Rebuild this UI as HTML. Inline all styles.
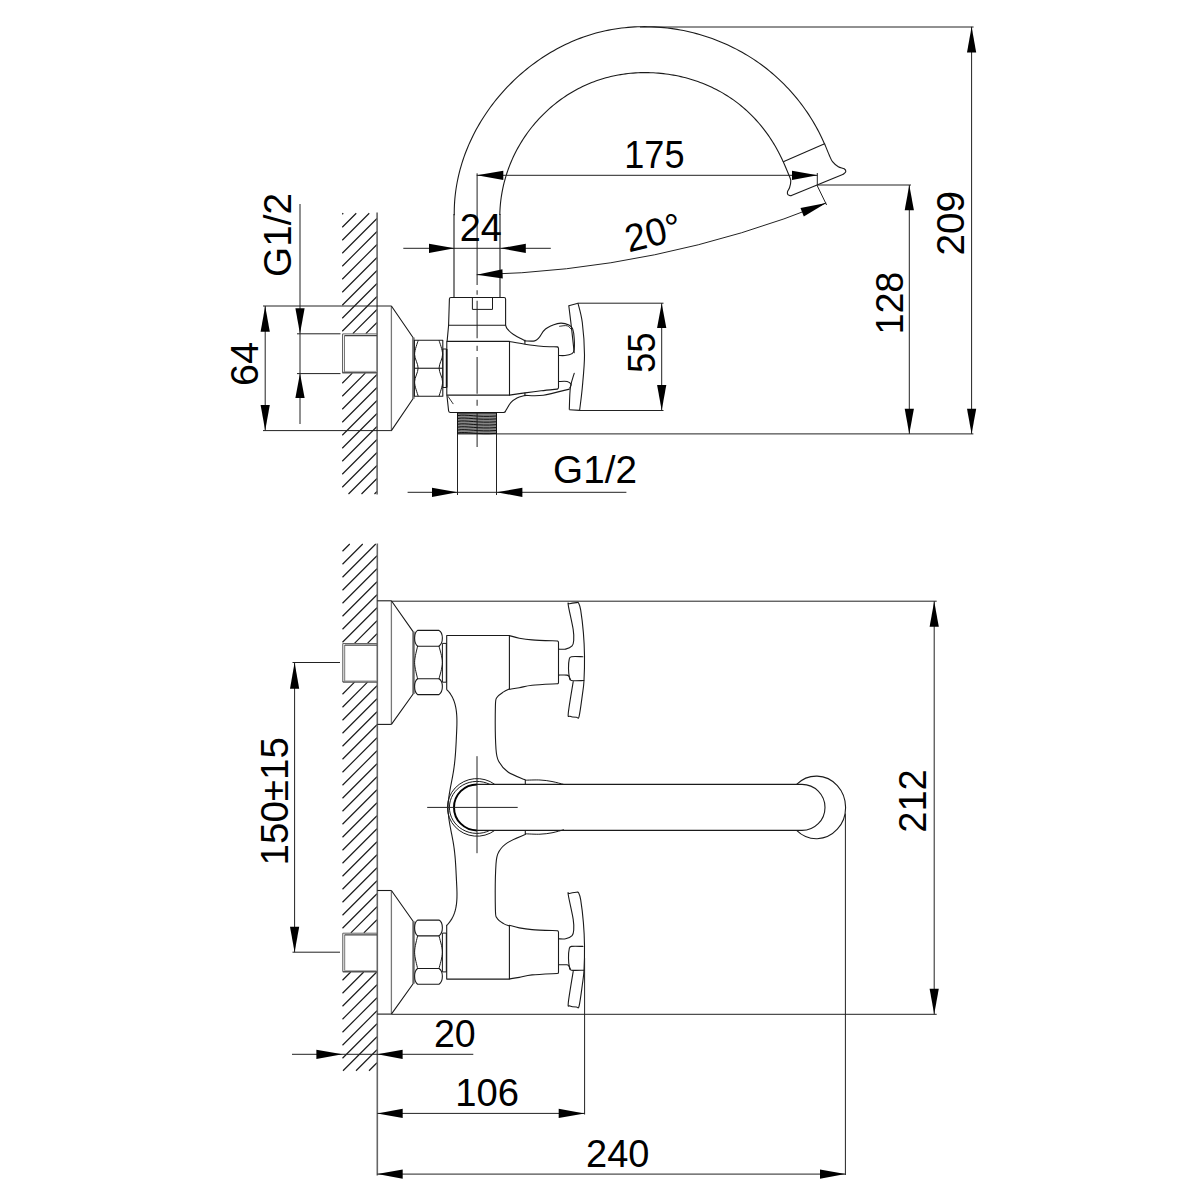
<!DOCTYPE html>
<html><head><meta charset="utf-8"><style>
html,body{margin:0;padding:0;background:#fff;width:1200px;height:1200px;overflow:hidden}
svg{display:block}
text{font-family:"Liberation Sans",sans-serif;fill:#000}
</style></head><body>
<svg width="1200" height="1200" viewBox="0 0 1200 1200">
<rect width="1200" height="1200" fill="#fff"/>
<path d="M342.25,214.25L343.25,213.25 M342.25,227.25L356.25,213.25 M342.25,240.25L369.25,213.25 M342.25,253.25L377,218.5 M342.25,266.25L377,231.5 M342.25,279.25L377,244.5 M342.25,292.25L377,257.5 M342.25,305.25L377,270.5 M342.25,318.25L377,283.5 M342.25,331.25L377,296.5 M352.8,333.7L377,309.5 M365.8,333.7L377,322.5 M342.25,383.25L352.3,373.2 M342.25,396.25L365.3,373.2 M342.25,409.25L377,374.5 M342.25,422.25L377,387.5 M342.25,435.25L377,400.5 M342.25,448.25L377,413.5 M342.25,461.25L377,426.5 M342.25,474.25L377,439.5 M342.25,487.25L377,452.5 M348.5,494L377,465.5 M361.5,494L377,478.5 M374.5,494L377,491.5" fill="none" stroke="#1a1a1a" stroke-width="1.15"/>
<line x1="377.1" y1="212.5" x2="377.1" y2="494.5" stroke="#666" stroke-width="1.6"/>
<line x1="342.6" y1="333.9" x2="342.6" y2="373.2" stroke="#555" stroke-width="1.0"/>
<line x1="344.5" y1="335.5" x2="344.5" y2="372.5" stroke="#777" stroke-width="1.0"/>
<line x1="342.6" y1="333.9" x2="377" y2="333.9" stroke="#666" stroke-width="1.0"/>
<line x1="344.5" y1="335.7" x2="377" y2="335.7" stroke="#444" stroke-width="1.2"/>
<line x1="342.6" y1="372.6" x2="377" y2="372.6" stroke="#555" stroke-width="1.6"/>
<line x1="344.5" y1="371.4" x2="377" y2="371.4" stroke="#999" stroke-width="0.8"/>
<line x1="263" y1="306" x2="391.5" y2="306" stroke="#222" stroke-width="1.0"/>
<line x1="263" y1="430.6" x2="392" y2="430.6" stroke="#222" stroke-width="1.0"/>
<line x1="265.2" y1="306" x2="265.2" y2="430.6" stroke="#222" stroke-width="1.0"/>
<polygon points="265.2,306 269.8,331.7 260.6,331.7" fill="#000"/>
<polygon points="265.2,430.6 260.6,405 269.8,405" fill="#000"/>
<text x="-1.98" y="0" font-size="38.9" transform="translate(257.5,384) rotate(-90) scale(1.0211,1)">64</text>
<line x1="300" y1="204" x2="300" y2="424" stroke="#222" stroke-width="1.0"/>
<polygon points="300,333.8 295.4,308.2 304.6,308.2" fill="#000"/>
<polygon points="300,373.6 304.6,398 295.4,398" fill="#000"/>
<line x1="297" y1="333.8" x2="340.5" y2="333.8" stroke="#222" stroke-width="1.0"/>
<line x1="297" y1="373.6" x2="340.5" y2="373.6" stroke="#222" stroke-width="1.0"/>
<text x="-1.96" y="0" font-size="38.9" transform="translate(290.8,275) rotate(-90) scale(0.9948,1)">G1/2</text>
<polyline points="391.4,306 391.4,430.6" fill="none" stroke="#777" stroke-width="1.3" stroke-linejoin="round"/>
<polyline points="391.4,306 413,337.5 413,398.8 391.4,430.6" fill="none" stroke="#1a1a1a" stroke-width="1.1" stroke-linejoin="round"/>
<line x1="414.2" y1="337.5" x2="414.2" y2="398.8" stroke="#555" stroke-width="0.8"/>
<polygon points="414.4,340.3 442.8,340.3 442.8,396.25 414.4,396.25" fill="none" stroke="#1a1a1a" stroke-width="1.1" stroke-linejoin="round"/>
<line x1="414.4" y1="368.25" x2="442.8" y2="368.25" stroke="#1a1a1a" stroke-width="1.1"/>
<path d="M418.1,340.6 C417.52,342.9 414.6,349.82 414.6,354.4 C414.6,358.98 418.1,363.52 418.1,368.1 C418.1,372.68 414.6,377.27 414.6,381.9 C414.6,386.53 417.52,393.57 418.1,395.9" fill="none" stroke="#1a1a1a" stroke-width="1.0" stroke-linejoin="round" stroke-linecap="round"/>
<path d="M439.1,340.6 C439.68,342.9 442.6,349.82 442.6,354.4 C442.6,358.98 439.1,363.52 439.1,368.1 C439.1,372.68 442.6,377.27 442.6,381.9 C442.6,386.53 439.68,393.57 439.1,395.9" fill="none" stroke="#1a1a1a" stroke-width="1.0" stroke-linejoin="round" stroke-linecap="round"/>
<polygon points="442.8,349 446.6,349 446.6,387.5 442.8,387.5" fill="none" stroke="#1a1a1a" stroke-width="1.0" stroke-linejoin="round"/>
<line x1="446.6" y1="349" x2="446.6" y2="387.5" stroke="#000" stroke-width="1.6"/>
<polygon points="446.8,341.4 509.5,341.4 509.5,395.1 446.8,395.1" fill="none" stroke="#1a1a1a" stroke-width="1.1" stroke-linejoin="round"/>
<path d="M447.1,341.4 L448.6,325.3 L449.4,299 Q449.4,297.5 451,297.5 L504,297.5 Q505.6,297.5 505.6,299 L505.6,325.3" fill="none" stroke="#1a1a1a" stroke-width="1.1" stroke-linejoin="round"/>
<line x1="448.6" y1="325.3" x2="505.6" y2="325.3" stroke="#1a1a1a" stroke-width="1.1"/>
<path d="M505.6,325.3 C505.92,325.95 506.18,327.67 507.5,329.2 C508.82,330.73 510.68,332.63 513.5,334.5 C516.32,336.37 522.58,339.42 524.4,340.4" fill="none" stroke="#1a1a1a" stroke-width="1.1" stroke-linejoin="round" stroke-linecap="round"/>
<polyline points="472.4,297.5 472.4,309.4 492.5,309.4 492.5,297.5" fill="none" stroke="#1a1a1a" stroke-width="1.0" stroke-linejoin="round"/>
<path d="M446.9,395.1 L448.6,410.8 Q448.9,412.5 450.5,412.5 L503.5,412.5 Q505.2,412.5 505.6,411" fill="none" stroke="#1a1a1a" stroke-width="1.1" stroke-linejoin="round"/>
<path d="M505.6,411 C506.47,409.62 508.9,404.87 510.8,402.7 C512.7,400.53 514.73,399.18 517,398 C519.27,396.82 523.17,396 524.4,395.6" fill="none" stroke="#1a1a1a" stroke-width="1.1" stroke-linejoin="round" stroke-linecap="round"/>
<path d="M448.1,396.5 C448.5,397.08 449.67,398.79 450.5,400 C451.33,401.21 452.67,403.12 453.1,403.75" fill="none" stroke="#1a1a1a" stroke-width="0.9" stroke-linejoin="round" stroke-linecap="round"/>
<rect x="457.5" y="413" width="39" height="20.9" fill="#858585" stroke="#111" stroke-width="1"/>
<path d="M458,415.5 C466,414 478,417.5 496,416" fill="none" stroke="#111" stroke-width="1.0" stroke-linejoin="round"/>
<path d="M458,418.4 C466,416.9 478,420.4 496,418.9" fill="none" stroke="#111" stroke-width="1.0" stroke-linejoin="round"/>
<path d="M458,421.3 C466,419.8 478,423.3 496,421.8" fill="none" stroke="#111" stroke-width="1.0" stroke-linejoin="round"/>
<path d="M458,424.2 C466,422.7 478,426.2 496,424.7" fill="none" stroke="#111" stroke-width="1.0" stroke-linejoin="round"/>
<path d="M458,427.1 C466,425.6 478,429.1 496,427.6" fill="none" stroke="#111" stroke-width="1.0" stroke-linejoin="round"/>
<path d="M458,430 C466,428.5 478,432 496,430.5" fill="none" stroke="#111" stroke-width="1.0" stroke-linejoin="round"/>
<path d="M458,432.9 C466,431.4 478,434.9 496,433.4" fill="none" stroke="#111" stroke-width="1.0" stroke-linejoin="round"/>
<line x1="454" y1="214" x2="454" y2="297.5" stroke="#1a1a1a" stroke-width="1.1"/>
<line x1="500" y1="214" x2="500" y2="297.5" stroke="#1a1a1a" stroke-width="1.1"/>
<path d="M454.25,215.14 L454.24,211.81 L454.3,208.49 L454.43,205.18 L454.62,201.87 L454.88,198.58 L455.21,195.29 L455.6,192.02 L456.06,188.75 L456.58,185.5 L457.17,182.26 L457.81,179.04 L458.52,175.83 L459.29,172.63 L460.12,169.45 L461.01,166.29 L461.95,163.14 L462.96,160.01 L464.02,156.9 L465.14,153.81 L466.32,150.74 L467.55,147.69 L468.83,144.66 L470.17,141.66 L471.56,138.67 L473,135.71 L474.5,132.77 L476.05,129.86 L477.64,126.98 L479.29,124.12 L480.98,121.28 L482.73,118.48 L484.52,115.7 L486.35,112.95 L488.23,110.23 L490.16,107.54 L492.13,104.89 L494.15,102.26 L496.21,99.67 L498.31,97.11 L500.45,94.59 L502.63,92.1 L504.85,89.64 L507.12,87.22 L509.42,84.84 L511.76,82.5 L514.13,80.19 L516.54,77.92 L518.99,75.69 L521.47,73.51 L523.99,71.36 L526.54,69.25 L529.13,67.19 L531.74,65.17 L534.39,63.2 L537.07,61.27 L539.78,59.38 L542.51,57.54 L545.28,55.75 L548.07,54 L550.89,52.31 L553.74,50.66 L556.62,49.06 L559.51,47.51 L562.44,46.01 L565.38,44.56 L568.35,43.17 L571.34,41.83 L574.35,40.54 L577.39,39.31 L580.44,38.13 L583.51,37 L586.6,35.94 L589.71,34.93 L592.83,33.98 L595.97,33.09 L599.13,32.25 L602.3,31.48 L605.49,30.76 L608.69,30.11 L611.9,29.51 L615.12,28.96 L618.35,28.48 L621.59,28.05 L624.83,27.69 L628.09,27.37 L631.35,27.12 L634.61,26.92 L637.89,26.78 L641.16,26.69 L644.44,26.66 L647.71,26.69 L650.99,26.77 L654.27,26.91 L657.55,27.1 L660.82,27.34 L664.09,27.64 L667.36,28 L670.62,28.41 L673.88,28.87 L677.12,29.39 L680.37,29.96 L683.6,30.58 L686.82,31.26 L690.03,31.99 L693.23,32.77 L696.42,33.61 L699.59,34.5 L702.75,35.44 L705.9,36.43 L709.03,37.47 L712.14,38.56 L715.23,39.71 L718.3,40.9 L721.36,42.15 L724.39,43.45 L727.4,44.79 L730.39,46.19 L733.35,47.64 L736.29,49.13 L739.21,50.68 L742.09,52.27 L744.95,53.92 L747.79,55.61 L750.59,57.35 L753.36,59.14 L756.1,60.98 L758.81,62.86 L761.48,64.79 L764.12,66.77 L766.73,68.79 L769.3,70.86 L771.84,72.97 L774.34,75.13 L776.81,77.33 L779.24,79.57 L781.62,81.85 L783.98,84.17 L786.29,86.53 L788.56,88.93 L790.79,91.37 L792.98,93.84 L795.12,96.36 L797.23,98.9 L799.29,101.49 L801.3,104.11 L803.27,106.76 L805.2,109.45 L807.08,112.16 L808.91,114.91 L810.7,117.69 L812.44,120.51 L814.13,123.35 L815.77,126.22 L817.36,129.11 L818.9,132.04 L820.38,134.99 L821.82,137.97 L823.2,140.97 L824.53,144" fill="none" stroke="#1a1a1a" stroke-width="1.1" stroke-linejoin="round"/>
<path d="M499.82,215.07 L499.88,212.56 L499.98,210.06 L500.13,207.55 L500.33,205.05 L500.57,202.54 L500.86,200.05 L501.19,197.55 L501.57,195.06 L501.99,192.58 L502.46,190.1 L502.97,187.63 L503.52,185.17 L504.12,182.72 L504.76,180.28 L505.45,177.84 L506.17,175.42 L506.94,173.02 L507.75,170.62 L508.6,168.25 L509.5,165.88 L510.43,163.53 L511.4,161.2 L512.41,158.89 L513.47,156.59 L514.56,154.32 L515.69,152.06 L516.85,149.83 L518.06,147.62 L519.3,145.43 L520.59,143.26 L521.9,141.11 L523.25,138.99 L524.64,136.89 L526.07,134.82 L527.52,132.77 L529.01,130.75 L530.54,128.75 L532.1,126.78 L533.69,124.84 L535.31,122.93 L536.96,121.04 L538.65,119.18 L540.36,117.35 L542.11,115.55 L543.88,113.78 L545.68,112.04 L547.51,110.33 L549.37,108.66 L551.26,107.01 L553.18,105.4 L555.12,103.82 L557.08,102.28 L559.07,100.77 L561.09,99.29 L563.13,97.85 L565.2,96.44 L567.29,95.07 L569.4,93.74 L571.53,92.45 L573.69,91.19 L575.86,89.97 L578.06,88.79 L580.28,87.65 L582.52,86.54 L584.78,85.48 L587.06,84.46 L589.35,83.48 L591.67,82.54 L594,81.65 L596.35,80.8 L598.71,79.99 L601.09,79.22 L603.49,78.49 L605.9,77.81 L608.32,77.17 L610.76,76.57 L613.2,76.02 L615.66,75.51 L618.13,75.03 L620.6,74.6 L623.09,74.22 L625.58,73.87 L628.08,73.57 L630.59,73.3 L633.1,73.08 L635.62,72.9 L638.14,72.77 L640.67,72.67 L643.19,72.61 L645.72,72.6 L648.25,72.62 L650.78,72.69 L653.31,72.79 L655.84,72.94 L658.36,73.13 L660.88,73.36 L663.4,73.63 L665.92,73.94 L668.43,74.28 L670.93,74.67 L673.42,75.1 L675.91,75.57 L678.39,76.08 L680.86,76.62 L683.32,77.21 L685.78,77.84 L688.21,78.5 L690.64,79.21 L693.05,79.95 L695.45,80.73 L697.84,81.56 L700.21,82.42 L702.56,83.32 L704.9,84.25 L707.22,85.23 L709.52,86.24 L711.8,87.3 L714.07,88.39 L716.31,89.52 L718.53,90.68 L720.72,91.89 L722.9,93.13 L725.05,94.41 L727.18,95.73 L729.28,97.09 L731.35,98.48 L733.4,99.91 L735.42,101.37 L737.42,102.88 L739.39,104.41 L741.32,105.99 L743.24,107.59 L745.12,109.23 L746.98,110.9 L748.8,112.61 L750.6,114.35 L752.37,116.12 L754.1,117.92 L755.81,119.75 L757.49,121.61 L759.14,123.49 L760.75,125.41 L762.34,127.36 L763.89,129.33 L765.42,131.33 L766.91,133.36 L768.36,135.41 L769.79,137.49 L771.18,139.59 L772.54,141.72 L773.87,143.87 L775.16,146.04 L776.42,148.24 L777.64,150.45 L778.83,152.69 L779.98,154.95 L781.1,157.23 L782.19,159.53 L783.23,161.85" fill="none" stroke="#1a1a1a" stroke-width="1.1" stroke-linejoin="round"/>
<line x1="783.3" y1="161.7" x2="824.6" y2="143.75" stroke="#1a1a1a" stroke-width="1.1"/>
<path d="M824.6,143.75 C825.37,145.62 827.88,152.01 829.2,155 C830.52,157.99 830.98,159.75 832.5,161.7 C834.02,163.65 836.35,165.52 838.3,166.7 C840.25,167.88 842.95,167.92 844.2,168.75 C845.45,169.58 845.95,170.79 845.8,171.7 C845.65,172.61 843.72,173.78 843.3,174.2" fill="none" stroke="#1a1a1a" stroke-width="1.1" stroke-linejoin="round" stroke-linecap="round"/>
<line x1="843.3" y1="174.2" x2="790.8" y2="195.8" stroke="#1a1a1a" stroke-width="1.1"/>
<path d="M790.8,195.8 C790.32,195.6 788.45,195.28 787.9,194.6 C787.35,193.92 787.22,192.88 787.5,191.7 C787.78,190.52 789.05,189.32 789.6,187.5 C790.15,185.68 790.87,182.75 790.8,180.8 C790.73,178.85 790.45,178.98 789.2,175.8 C787.95,172.62 784.28,164.05 783.3,161.7" fill="none" stroke="#1a1a1a" stroke-width="1.1" stroke-linejoin="round" stroke-linecap="round"/>
<line x1="477.1" y1="173.3" x2="477.1" y2="285" stroke="#222" stroke-width="1.0"/>
<line x1="477.1" y1="290.25" x2="477.1" y2="294.75" stroke="#222" stroke-width="1.0"/>
<line x1="477.1" y1="300.75" x2="477.1" y2="338.25" stroke="#222" stroke-width="1.0"/>
<line x1="477.1" y1="345.75" x2="477.1" y2="351" stroke="#222" stroke-width="1.0"/>
<line x1="477.1" y1="357" x2="477.1" y2="393.75" stroke="#222" stroke-width="1.0"/>
<line x1="477.1" y1="399.75" x2="477.1" y2="405.75" stroke="#222" stroke-width="1.0"/>
<line x1="477.1" y1="412.5" x2="477.1" y2="447" stroke="#222" stroke-width="1.0"/>
<line x1="403.3" y1="248.3" x2="550.8" y2="248.3" stroke="#222" stroke-width="1.0"/>
<polygon points="454.5,248.3 429,252.9 429,243.7" fill="#000"/>
<polygon points="500.4,248.3 525.8,243.7 525.8,252.9" fill="#000"/>
<text x="-1.96" y="0" font-size="38.9" transform="translate(461.7,241.3) rotate(0) scale(0.9733,1)">24</text>
<line x1="476.7" y1="175.3" x2="817.5" y2="175.3" stroke="#222" stroke-width="1.0"/>
<polygon points="476.9,175.3 503.3,170.7 503.3,179.9" fill="#000"/>
<polygon points="817.5,175.3 792,179.9 792,170.7" fill="#000"/>
<line x1="817.3" y1="173" x2="817.3" y2="185" stroke="#222" stroke-width="1.0"/>
<text x="-2.96" y="0" font-size="38.9" transform="translate(627,167.8) rotate(0) scale(0.9286,1)">175</text>
<path d="M476.7,274.75 A995.0,995.0 0 0 0 826.2,202.96" fill="none" stroke="#222" stroke-width="1.0"/>
<polygon points="476.7,274.75 502.44,269.24 502.76,278.43" fill="#000"/>
<polygon points="826.2,202.96 803.81,216.58 800.48,208" fill="#000"/>
<line x1="816.9" y1="185" x2="826.6" y2="205" stroke="#222" stroke-width="1.0"/>
<text x="-1.96" y="0" font-size="38.9" transform="translate(630.6,252) rotate(-14) scale(0.9646,1)">20°</text>
<line x1="817" y1="185" x2="911" y2="185" stroke="#222" stroke-width="1.0"/>
<line x1="640" y1="27" x2="973.6" y2="27" stroke="#222" stroke-width="1.0"/>
<line x1="496.5" y1="433.9" x2="973.4" y2="433.9" stroke="#222" stroke-width="1.0"/>
<line x1="909.3" y1="185" x2="909.3" y2="433.9" stroke="#222" stroke-width="1.0"/>
<polygon points="909.3,185 913.9,210.2 904.7,210.2" fill="#000"/>
<polygon points="909.3,433.9 904.7,408.7 913.9,408.7" fill="#000"/>
<line x1="971.6" y1="26.8" x2="971.6" y2="433.9" stroke="#222" stroke-width="1.0"/>
<polygon points="971.6,26.8 976.2,52.4 967,52.4" fill="#000"/>
<polygon points="971.6,433.9 967,408.7 976.2,408.7" fill="#000"/>
<text x="-2.96" y="0" font-size="38.9" transform="translate(902.5,331.7) rotate(-90) scale(0.9693,1)">128</text>
<text x="-1.96" y="0" font-size="38.9" transform="translate(964.1,253.5) rotate(-90) scale(0.9934,1)">209</text>
<line x1="457.5" y1="433.9" x2="457.5" y2="495" stroke="#222" stroke-width="1.0"/>
<line x1="496.5" y1="433.9" x2="496.5" y2="495" stroke="#222" stroke-width="1.0"/>
<line x1="407.6" y1="492.3" x2="626.4" y2="492.3" stroke="#222" stroke-width="1.0"/>
<polygon points="457.5,492.3 432,496.9 432,487.7" fill="#000"/>
<polygon points="496.5,492.3 522.4,487.7 522.4,496.9" fill="#000"/>
<text x="-1.96" y="0" font-size="38.9" transform="translate(555,483) rotate(0) scale(0.9948,1)">G1/2</text>
<path d="M509.5,341.5 C512.07,341.95 519.62,343.4 524.9,344.2 C530.18,345 535.85,345.85 541.2,346.3 C546.55,346.75 554.37,346.8 557,346.9" fill="none" stroke="#1a1a1a" stroke-width="1.1" stroke-linejoin="round" stroke-linecap="round"/>
<path d="M557,346.9 Q558.5,346.9 558.5,348.4 L558.5,387.6 Q558.5,389.1 557,389.1" fill="none" stroke="#1a1a1a" stroke-width="1.1" stroke-linejoin="round"/>
<path d="M557,389.1 C554.37,389.38 546.55,390.17 541.2,390.8 C535.85,391.43 530.18,392.18 524.9,392.9 C519.62,393.62 512.07,394.73 509.5,395.1" fill="none" stroke="#1a1a1a" stroke-width="1.1" stroke-linejoin="round" stroke-linecap="round"/>
<line x1="524.9" y1="339.8" x2="524.9" y2="344" stroke="#1a1a1a" stroke-width="1.1"/>
<line x1="524.9" y1="392.8" x2="524.9" y2="396.2" stroke="#1a1a1a" stroke-width="1.1"/>
<path d="M524.9,340.9 C526.53,340.9 532.35,341.43 534.7,340.9 C537.05,340.37 537.2,339.68 539,337.7 C540.8,335.72 542.43,331.35 545.5,329 C548.57,326.65 554.15,324.5 557.4,323.6 C560.65,322.7 562.65,323.07 565,323.6 C567.35,324.13 570.05,325.18 571.5,326.8 C572.95,328.42 573.25,329.5 573.7,333.3 C574.15,337.1 574.57,346.17 574.2,349.6 C573.83,353.03 573.03,352.92 571.5,353.9 C569.97,354.88 567.17,355.23 565,355.5 C562.83,355.77 559.58,355.5 558.5,355.5" fill="none" stroke="#1a1a1a" stroke-width="1.1" stroke-linejoin="round" stroke-linecap="round"/>
<path d="M559.6,326.3 C560.87,326.22 565.13,325.17 567.2,325.8 C569.27,326.43 571.2,329.38 572,330.1" fill="none" stroke="#1a1a1a" stroke-width="0.9" stroke-linejoin="round" stroke-linecap="round"/>
<path d="M558.5,381.5 C559.95,381.5 565.12,381.03 567.2,381.5 C569.28,381.97 570.57,383.22 571,384.3 C571.43,385.38 570,387.38 569.8,388" fill="none" stroke="#1a1a1a" stroke-width="1.1" stroke-linejoin="round" stroke-linecap="round"/>
<path d="M524.9,395.4 C527.97,395.37 535.9,396.25 543.3,395.2 C550.7,394.15 564.97,390.12 569.3,389.1" fill="none" stroke="#1a1a1a" stroke-width="1.1" stroke-linejoin="round" stroke-linecap="round"/>
<path d="M568.8,305.7 C569.25,309.4 570.6,320.05 571.5,327.9 C572.4,335.75 573.75,348.65 574.2,352.8" fill="none" stroke="#1a1a1a" stroke-width="1.1" stroke-linejoin="round" stroke-linecap="round"/>
<path d="M574.2,373.4 C573.57,375.75 571.22,381.53 570.4,387.5 C569.58,393.47 569.48,405.58 569.3,409.2" fill="none" stroke="#1a1a1a" stroke-width="1.1" stroke-linejoin="round" stroke-linecap="round"/>
<line x1="568.8" y1="305.7" x2="578" y2="303.3" stroke="#1a1a1a" stroke-width="1.1"/>
<path d="M578,303.3 C578.72,306.5 581.22,313.88 582.3,322.5 C583.38,331.12 584.5,344.17 584.5,355 C584.5,365.83 583.12,378.27 582.3,387.5 C581.48,396.73 580.05,406.58 579.6,410.4" fill="none" stroke="#1a1a1a" stroke-width="1.1" stroke-linejoin="round" stroke-linecap="round"/>
<line x1="569.3" y1="409.8" x2="579.6" y2="410.4" stroke="#1a1a1a" stroke-width="1.1"/>
<line x1="578" y1="303.2" x2="663.5" y2="303.2" stroke="#222" stroke-width="1.0"/>
<line x1="579.6" y1="410.5" x2="663.5" y2="410.5" stroke="#222" stroke-width="1.0"/>
<line x1="661.7" y1="303.2" x2="661.7" y2="410.5" stroke="#222" stroke-width="1.0"/>
<polygon points="661.7,303.2 666.3,328 657.1,328" fill="#000"/>
<polygon points="661.7,410.5 657.1,385 666.3,385" fill="#000"/>
<text x="-1.56" y="0" font-size="38.9" transform="translate(654.5,371.5) rotate(-90) scale(0.9357,1)">55</text>
<path d="M342.5,551.25L349.75,544 M342.5,564.25L362.75,544 M342.5,577.25L375.75,544 M342.5,590.25L377,555.75 M342.5,603.25L377,568.75 M342.5,616.25L377,581.75 M342.5,629.25L377,594.75 M342.5,642.25L377,607.75 M354.45,643.3L377,620.75 M367.45,643.3L377,633.75 M342.5,694.25L354.55,682.2 M342.5,707.25L367.55,682.2 M342.5,720.25L377,685.75 M342.5,733.25L377,698.75 M342.5,746.25L377,711.75 M342.5,759.25L377,724.75 M342.5,772.25L377,737.75 M342.5,785.25L377,750.75 M342.5,798.25L377,763.75 M342.5,811.25L377,776.75 M342.5,824.25L377,789.75 M342.5,837.25L377,802.75 M342.5,850.25L377,815.75 M342.5,863.25L377,828.75 M342.5,876.25L377,841.75 M342.5,889.25L377,854.75 M342.5,902.25L377,867.75 M342.5,915.25L377,880.75 M342.5,928.25L377,893.75 M350.85,932.9L377,906.75 M363.85,932.9L377,919.75 M342.5,980.25L350.75,972 M342.5,993.25L363.75,972 M342.5,1006.25L376.75,972 M342.5,1019.25L377,984.75 M342.5,1032.25L377,997.75 M342.5,1045.25L377,1010.75 M342.5,1058.25L377,1023.75 M343,1070.75L377,1036.75 M356,1070.75L377,1049.75 M369,1070.75L377,1062.75" fill="none" stroke="#1a1a1a" stroke-width="1.15"/>
<line x1="377.3" y1="543.5" x2="377.3" y2="1175.5" stroke="#666" stroke-width="1.6"/>
<line x1="342.8" y1="643.5" x2="342.8" y2="682" stroke="#555" stroke-width="1.0"/>
<line x1="344.7" y1="645" x2="344.7" y2="681" stroke="#777" stroke-width="1.0"/>
<line x1="342.8" y1="643.5" x2="377" y2="643.5" stroke="#666" stroke-width="1.0"/>
<line x1="344.7" y1="645.2" x2="377" y2="645.2" stroke="#444" stroke-width="1.2"/>
<line x1="342.8" y1="682" x2="377" y2="682" stroke="#555" stroke-width="1.6"/>
<line x1="344.7" y1="680.8" x2="377" y2="680.8" stroke="#999" stroke-width="0.8"/>
<polyline points="377.3,600.8 391.4,600.8" fill="none" stroke="#1a1a1a" stroke-width="1.1" stroke-linejoin="round"/>
<polyline points="377.3,724.4 391.4,724.4" fill="none" stroke="#1a1a1a" stroke-width="1.1" stroke-linejoin="round"/>
<line x1="391.4" y1="600.8" x2="391.4" y2="724.4" stroke="#777" stroke-width="1.3"/>
<polyline points="391.4,600.8 413.1,631.6 413.1,694 391.4,724.4" fill="none" stroke="#1a1a1a" stroke-width="1.1" stroke-linejoin="round"/>
<line x1="414.3" y1="631.6" x2="414.3" y2="694" stroke="#555" stroke-width="0.8"/>
<path d="M417.6,630.4 L439,630.4 C443.5,633 443.5,643 439,646.2 L417.6,646.2 C413.6,643 413.6,633 417.6,630.4 Z" fill="none" stroke="#1a1a1a" stroke-width="1.1" stroke-linejoin="round"/>
<path d="M417.6,678.8 L439,678.8 C443.5,681.5 443.5,691.5 439,694.6 L417.6,694.6 C413.6,691.5 413.6,681.5 417.6,678.8 Z" fill="none" stroke="#1a1a1a" stroke-width="1.1" stroke-linejoin="round"/>
<path d="M417.6,646.2 C417.1,648.92 414.6,657.07 414.6,662.5 C414.6,667.93 417.1,676.08 417.6,678.8" fill="none" stroke="#1a1a1a" stroke-width="1.0" stroke-linejoin="round" stroke-linecap="round"/>
<path d="M439,646.2 C439.57,648.92 442.4,657.07 442.4,662.5 C442.4,667.93 439.57,676.08 439,678.8" fill="none" stroke="#1a1a1a" stroke-width="1.0" stroke-linejoin="round" stroke-linecap="round"/>
<polygon points="442.4,643.4 446.3,643.4 446.3,682.2 442.4,682.2" fill="none" stroke="#1a1a1a" stroke-width="1.0" stroke-linejoin="round"/>
<path d="M509.4,635.6 C511.05,636.03 515.52,637.48 519.3,638.2 C523.08,638.92 525.77,639.43 532.1,639.9 C538.43,640.37 553.1,640.82 557.3,641" fill="none" stroke="#1a1a1a" stroke-width="1.1" stroke-linejoin="round" stroke-linecap="round"/>
<path d="M557.3,641 Q558.5,641 558.5,642.5 L558.5,682.5 Q558.5,683.8 557.3,683.8" fill="none" stroke="#1a1a1a" stroke-width="1.1" stroke-linejoin="round"/>
<path d="M557.3,683.8 C553.1,684.03 538.43,684.55 532.1,685.2 C525.77,685.85 523.08,687.03 519.3,687.7 C515.52,688.37 511.05,688.95 509.4,689.2" fill="none" stroke="#1a1a1a" stroke-width="1.1" stroke-linejoin="round" stroke-linecap="round"/>
<path d="M558.5,649.1 C559.68,649.1 563.33,649.63 565.6,649.1 C567.87,648.57 570.75,647.33 572.1,645.9 C573.45,644.47 573.52,643.22 573.7,640.5 C573.88,637.78 574.1,635.47 573.2,629.6 C572.3,623.73 568.93,609.62 568.3,605.3 C567.67,600.98 568.05,604.15 569.4,603.7 C570.75,603.25 574.87,602.7 576.4,602.6 C577.93,602.5 577.88,601.83 578.6,603.1 C579.32,604.37 579.9,605.23 580.7,610.2 C581.5,615.17 582.77,625.33 583.4,632.9 C584.03,640.47 584.4,647.67 584.5,655.6 C584.6,663.53 584.35,674 584,680.5 C583.65,687 583.22,688.63 582.4,694.6 C581.58,700.57 580.1,712.52 579.1,716.3 C578.1,720.08 577.93,717.3 576.4,717.3 C574.87,717.3 571.25,717.02 569.9,716.3 C568.55,715.58 567.75,718.78 568.3,713 C568.85,707.22 572.38,686.83 573.2,681.6" fill="none" stroke="#1a1a1a" stroke-width="1.1" stroke-linejoin="round" stroke-linecap="round"/>
<path d="M582.9,656.7 C581,656.7 573.78,656.23 571.5,656.7 C569.22,657.17 569.7,657.52 569.2,659.5 C568.7,661.48 568.47,665.63 568.5,668.6 C568.53,671.57 568.9,675.32 569.4,677.3 C569.9,679.28 569.1,679.97 571.5,680.5 C573.9,681.03 581.75,680.5 583.8,680.5" fill="none" stroke="#1a1a1a" stroke-width="1.1" stroke-linejoin="round" stroke-linecap="round"/>
<path d="M558.5,675.1 C559.87,675.1 564.98,674.92 566.7,675.1 C568.42,675.28 568.18,675.47 568.8,676.2 C569.42,676.93 570.13,678.95 570.4,679.5" fill="none" stroke="#1a1a1a" stroke-width="1.1" stroke-linejoin="round" stroke-linecap="round"/>
<line x1="342.8" y1="933.2" x2="342.8" y2="971.7" stroke="#555" stroke-width="1.0"/>
<line x1="344.7" y1="934.7" x2="344.7" y2="970.7" stroke="#777" stroke-width="1.0"/>
<line x1="342.8" y1="933.2" x2="377" y2="933.2" stroke="#666" stroke-width="1.0"/>
<line x1="344.7" y1="934.9" x2="377" y2="934.9" stroke="#444" stroke-width="1.2"/>
<line x1="342.8" y1="971.7" x2="377" y2="971.7" stroke="#555" stroke-width="1.6"/>
<line x1="344.7" y1="970.5" x2="377" y2="970.5" stroke="#999" stroke-width="0.8"/>
<polyline points="377.3,890.5 391.4,890.5" fill="none" stroke="#1a1a1a" stroke-width="1.1" stroke-linejoin="round"/>
<polyline points="377.3,1014.1 391.4,1014.1" fill="none" stroke="#1a1a1a" stroke-width="1.1" stroke-linejoin="round"/>
<line x1="391.4" y1="890.5" x2="391.4" y2="1014.1" stroke="#777" stroke-width="1.3"/>
<polyline points="391.4,890.5 413.1,921.3 413.1,983.7 391.4,1014.1" fill="none" stroke="#1a1a1a" stroke-width="1.1" stroke-linejoin="round"/>
<line x1="414.3" y1="921.3" x2="414.3" y2="983.7" stroke="#555" stroke-width="0.8"/>
<path d="M417.6,920.1 L439,920.1 C443.5,922.7 443.5,932.7 439,935.9 L417.6,935.9 C413.6,932.7 413.6,922.7 417.6,920.1 Z" fill="none" stroke="#1a1a1a" stroke-width="1.1" stroke-linejoin="round"/>
<path d="M417.6,968.5 L439,968.5 C443.5,971.2 443.5,981.2 439,984.3 L417.6,984.3 C413.6,981.2 413.6,971.2 417.6,968.5 Z" fill="none" stroke="#1a1a1a" stroke-width="1.1" stroke-linejoin="round"/>
<path d="M417.6,935.9 C417.1,938.62 414.6,946.77 414.6,952.2 C414.6,957.63 417.1,965.78 417.6,968.5" fill="none" stroke="#1a1a1a" stroke-width="1.0" stroke-linejoin="round" stroke-linecap="round"/>
<path d="M439,935.9 C439.57,938.62 442.4,946.77 442.4,952.2 C442.4,957.63 439.57,965.78 439,968.5" fill="none" stroke="#1a1a1a" stroke-width="1.0" stroke-linejoin="round" stroke-linecap="round"/>
<polygon points="442.4,933.1 446.3,933.1 446.3,971.9 442.4,971.9" fill="none" stroke="#1a1a1a" stroke-width="1.0" stroke-linejoin="round"/>
<path d="M509.4,925.3 C511.05,925.73 515.52,927.18 519.3,927.9 C523.08,928.62 525.77,929.13 532.1,929.6 C538.43,930.07 553.1,930.52 557.3,930.7" fill="none" stroke="#1a1a1a" stroke-width="1.1" stroke-linejoin="round" stroke-linecap="round"/>
<path d="M557.3,930.7 Q558.5,930.7 558.5,932.2 L558.5,972.2 Q558.5,973.5 557.3,973.5" fill="none" stroke="#1a1a1a" stroke-width="1.1" stroke-linejoin="round"/>
<path d="M557.3,973.5 C553.1,973.73 538.43,974.25 532.1,974.9 C525.77,975.55 523.08,976.73 519.3,977.4 C515.52,978.07 511.05,978.65 509.4,978.9" fill="none" stroke="#1a1a1a" stroke-width="1.1" stroke-linejoin="round" stroke-linecap="round"/>
<path d="M558.5,938.8 C559.68,938.8 563.33,939.33 565.6,938.8 C567.87,938.27 570.75,937.03 572.1,935.6 C573.45,934.17 573.52,932.92 573.7,930.2 C573.88,927.48 574.1,925.17 573.2,919.3 C572.3,913.43 568.93,899.32 568.3,895 C567.67,890.68 568.05,893.85 569.4,893.4 C570.75,892.95 574.87,892.4 576.4,892.3 C577.93,892.2 577.88,891.53 578.6,892.8 C579.32,894.07 579.9,894.93 580.7,899.9 C581.5,904.87 582.77,915.03 583.4,922.6 C584.03,930.17 584.4,937.37 584.5,945.3 C584.6,953.23 584.35,963.7 584,970.2 C583.65,976.7 583.22,978.33 582.4,984.3 C581.58,990.27 580.1,1002.22 579.1,1006 C578.1,1009.78 577.93,1007 576.4,1007 C574.87,1007 571.25,1006.72 569.9,1006 C568.55,1005.28 567.75,1008.48 568.3,1002.7 C568.85,996.92 572.38,976.53 573.2,971.3" fill="none" stroke="#1a1a1a" stroke-width="1.1" stroke-linejoin="round" stroke-linecap="round"/>
<path d="M582.9,946.4 C581,946.4 573.78,945.93 571.5,946.4 C569.22,946.87 569.7,947.22 569.2,949.2 C568.7,951.18 568.47,955.33 568.5,958.3 C568.53,961.27 568.9,965.02 569.4,967 C569.9,968.98 569.1,969.67 571.5,970.2 C573.9,970.73 581.75,970.2 583.8,970.2" fill="none" stroke="#1a1a1a" stroke-width="1.1" stroke-linejoin="round" stroke-linecap="round"/>
<path d="M558.5,964.8 C559.87,964.8 564.98,964.62 566.7,964.8 C568.42,964.98 568.18,965.17 568.8,965.9 C569.42,966.63 570.13,968.65 570.4,969.2" fill="none" stroke="#1a1a1a" stroke-width="1.1" stroke-linejoin="round" stroke-linecap="round"/>
<polyline points="446.7,689.5 446.7,635.5 509.4,635.5 509.4,689.2" fill="none" stroke="#1a1a1a" stroke-width="1.1" stroke-linejoin="round"/>
<polyline points="446.7,924.9 446.7,979.1 509.4,979.1 509.4,925" fill="none" stroke="#1a1a1a" stroke-width="1.1" stroke-linejoin="round"/>
<path d="M446.51,689.36 L447.43,690.28 L448.29,691.23 L449.1,692.19 L449.86,693.18 L450.56,694.18 L451.22,695.21 L451.83,696.25 L452.39,697.31 L452.92,698.38 L453.4,699.47 L453.84,700.57 L454.24,701.68 L454.61,702.81 L454.94,703.95 L455.24,705.1 L455.51,706.26 L455.75,707.43 L455.97,708.6 L456.15,709.79 L456.32,710.98 L456.46,712.17 L456.58,713.38 L456.68,714.58 L456.76,715.8 L456.83,717.02 L456.87,718.24 L456.9,719.47 L456.92,720.7 L456.92,721.93 L456.91,723.17 L456.9,724.41 L456.87,725.64 L456.83,726.89 L456.79,728.13 L456.74,729.37 L456.69,730.61 L456.63,731.85 L456.58,733.09 L456.52,734.33 L456.46,735.57 L456.4,736.8 L456.35,738.03 L456.29,739.26 L456.23,740.49 L456.17,741.72 L456.11,742.95 L456.04,744.17 L455.98,745.39 L455.91,746.62 L455.84,747.84 L455.76,749.06 L455.69,750.27 L455.61,751.49 L455.52,752.7 L455.43,753.92 L455.34,755.13 L455.24,756.34 L455.13,757.56 L455.02,758.77 L454.91,759.98 L454.78,761.19 L454.65,762.39 L454.52,763.6 L454.37,764.81 L454.22,766.01 L454.06,767.22 L453.9,768.43 L453.72,769.63 L453.54,770.84 L453.34,772.04 L453.14,773.24 L452.93,774.45 L452.72,775.65 L452.5,776.86 L452.27,778.06 L452.04,779.26 L451.81,780.46 L451.58,781.67 L451.34,782.87 L451.11,784.07 L450.88,785.27 L450.64,786.47 L450.42,787.67 L450.19,788.87 L449.98,790.07 L449.76,791.27 L449.56,792.47 L449.36,793.67 L449.18,794.87 L449,796.07 L448.84,797.27 L448.69,798.47 L448.55,799.67 L448.43,800.87 L448.33,802.07 L448.24,803.27 L448.18,804.47 L448.13,805.67 L448.1,806.87 L448.09,808.07 L448.11,809.27 L448.15,810.47 L448.21,811.67 L448.28,812.87 L448.38,814.07 L448.49,815.27 L448.62,816.47 L448.76,817.67 L448.92,818.87 L449.09,820.07 L449.27,821.27 L449.46,822.47 L449.66,823.67 L449.87,824.87 L450.09,826.07 L450.31,827.27 L450.54,828.47 L450.77,829.68 L451.01,830.88 L451.25,832.08 L451.48,833.28 L451.72,834.48 L451.96,835.69 L452.19,836.89 L452.43,838.09 L452.65,839.29 L452.88,840.49 L453.09,841.7 L453.3,842.9 L453.5,844.1 L453.69,845.31 L453.87,846.51 L454.04,847.71 L454.2,848.92 L454.35,850.12 L454.5,851.33 L454.63,852.53 L454.76,853.74 L454.88,854.94 L455,856.15 L455.11,857.36 L455.21,858.57 L455.31,859.78 L455.4,860.99 L455.48,862.2 L455.57,863.42 L455.64,864.63 L455.72,865.85 L455.79,867.07 L455.86,868.29 L455.92,869.51 L455.99,870.73 L456.05,871.95 L456.11,873.18 L456.17,874.41 L456.23,875.64 L456.29,876.87 L456.35,878.11 L456.41,879.35 L456.47,880.59 L456.53,881.83 L456.6,883.07 L456.66,884.32 L456.72,885.57 L456.78,886.81 L456.84,888.06 L456.88,889.31 L456.92,890.55 L456.96,891.8 L456.98,893.04 L456.99,894.28 L456.98,895.52 L456.96,896.75 L456.93,897.97 L456.87,899.2 L456.8,900.41 L456.71,901.62 L456.6,902.83 L456.46,904.02 L456.3,905.21 L456.11,906.39 L455.89,907.56 L455.65,908.72 L455.37,909.87 L455.06,911.01 L454.72,912.13 L454.35,913.25 L453.94,914.35 L453.49,915.44 L453,916.52 L452.47,917.58 L451.89,918.63 L451.28,919.66 L450.62,920.67 L449.91,921.67 L449.16,922.65 L448.35,923.62 L447.5,924.56 L446.59,925.49" fill="none" stroke="#1a1a1a" stroke-width="1.1" stroke-linejoin="round"/>
<path d="M509.2,689 C508.27,689.48 505.62,690.52 503.6,691.9 C501.58,693.28 498.47,694.95 497.1,697.3 C495.73,699.65 495.58,697.33 495.4,706 C495.22,714.67 495.35,739.92 496,749.3 C496.65,758.68 497.3,758.52 499.3,762.3 C501.3,766.08 503.78,769.12 508,772 C512.22,774.88 521.83,778.33 524.6,779.6" fill="none" stroke="#1a1a1a" stroke-width="1.1" stroke-linejoin="round" stroke-linecap="round"/>
<path d="M524.6,834.8 C521.83,836.07 512.22,839.68 508,842.4 C503.78,845.12 501.3,847.5 499.3,851.1 C497.3,854.7 496.65,854.27 496,864 C495.35,873.73 495.22,900.47 495.4,909.5 C495.58,918.53 495.73,915.85 497.1,918.2 C498.47,920.55 501.58,922.33 503.6,923.6 C505.62,924.87 508.27,925.43 509.2,925.8" fill="none" stroke="#1a1a1a" stroke-width="1.1" stroke-linejoin="round" stroke-linecap="round"/>
<line x1="525.3" y1="779.4" x2="525.3" y2="784.4" stroke="#1a1a1a" stroke-width="1.1"/>
<line x1="525.3" y1="830" x2="525.3" y2="835" stroke="#1a1a1a" stroke-width="1.1"/>
<path d="M525.3,780.2 C527.75,780.17 535.55,779.78 540,780 C544.45,780.22 548.08,780.77 552,781.5 C555.92,782.23 561.58,783.92 563.5,784.4" fill="none" stroke="#1a1a1a" stroke-width="1.0" stroke-linejoin="round" stroke-linecap="round"/>
<path d="M525.3,833.8 C527.75,833.87 535.55,834.37 540,834.2 C544.45,834.03 548.08,833.53 552,832.8 C555.92,832.07 561.58,830.3 563.5,829.8" fill="none" stroke="#1a1a1a" stroke-width="1.0" stroke-linejoin="round" stroke-linecap="round"/>
<line x1="477" y1="784.4" x2="802" y2="784.4" stroke="#1a1a1a" stroke-width="1.1"/>
<line x1="477" y1="830.4" x2="802" y2="830.4" stroke="#1a1a1a" stroke-width="1.1"/>
<path d="M477,784.4 A23,23 0 0 0 477,830.4" fill="none" stroke="#000" stroke-width="2"/>
<path d="M802,784.4 A23,23 0 0 1 802,830.4" fill="none" stroke="#1a1a1a" stroke-width="1.1"/>
<path d="M494.81,784.4 A29.6,28.8 0 1 0 494.81,830.4" fill="none" stroke="#1a1a1a" stroke-width="1.0"/>
<path d="M489.87,784.4 A27.6,26.0 0 1 0 489.87,830.4" fill="none" stroke="#1a1a1a" stroke-width="1.0"/>
<path d="M796.59,784.4 A29.2,31.3 0 1 1 796.59,830.4" fill="none" stroke="#1a1a1a" stroke-width="1.1"/>
<line x1="477" y1="756.2" x2="477" y2="853.2" stroke="#222" stroke-width="1.0"/>
<line x1="427.2" y1="807.4" x2="517.7" y2="807.4" stroke="#222" stroke-width="1.0"/>
<line x1="292.5" y1="662.5" x2="340" y2="662.5" stroke="#222" stroke-width="1.0"/>
<line x1="292.5" y1="952.2" x2="340" y2="952.2" stroke="#222" stroke-width="1.0"/>
<line x1="294.6" y1="662.5" x2="294.6" y2="952.2" stroke="#222" stroke-width="1.0"/>
<polygon points="294.6,662.5 299.2,688.7 290,688.7" fill="#000"/>
<polygon points="294.6,952.2 290,926.7 299.2,926.7" fill="#000"/>
<text x="-2.96" y="0" font-size="38.9" transform="translate(287.5,862.5) rotate(-90) scale(0.9906,1)">150±15</text>
<line x1="391.4" y1="601.2" x2="936.7" y2="601.2" stroke="#222" stroke-width="1.0"/>
<line x1="391.4" y1="1014.3" x2="936.7" y2="1014.3" stroke="#222" stroke-width="1.0"/>
<line x1="934.2" y1="601.2" x2="934.2" y2="1014.3" stroke="#222" stroke-width="1.0"/>
<polygon points="934.2,601.2 938.8,626.8 929.6,626.8" fill="#000"/>
<polygon points="934.2,1014.3 929.6,988.7 938.8,988.7" fill="#000"/>
<text x="-1.96" y="0" font-size="38.9" transform="translate(926.3,830.8) rotate(-90) scale(0.9772,1)">212</text>
<line x1="292" y1="1054.3" x2="473.3" y2="1054.3" stroke="#222" stroke-width="1.0"/>
<polygon points="342.4,1054.3 316.4,1058.9 316.4,1049.7" fill="#000"/>
<polygon points="377.3,1054.3 402.6,1049.7 402.6,1058.9" fill="#000"/>
<text x="-1.96" y="0" font-size="38.9" transform="translate(435.8,1046.7) rotate(0) scale(0.9650,1)">20</text>
<line x1="584.6" y1="958" x2="584.6" y2="1114.5" stroke="#222" stroke-width="1.0"/>
<line x1="377.3" y1="1113.4" x2="584.6" y2="1113.4" stroke="#222" stroke-width="1.0"/>
<polygon points="377.3,1113.4 402.7,1108.8 402.7,1118" fill="#000"/>
<polygon points="584.6,1113.4 558.7,1118 558.7,1108.8" fill="#000"/>
<text x="-2.96" y="0" font-size="38.9" transform="translate(458.1,1106) rotate(0) scale(0.9829,1)">106</text>
<line x1="845.4" y1="813.6" x2="845.4" y2="1175" stroke="#222" stroke-width="1.0"/>
<line x1="377.3" y1="1174.1" x2="845.4" y2="1174.1" stroke="#222" stroke-width="1.0"/>
<polygon points="377.3,1174.1 402.7,1169.5 402.7,1178.7" fill="#000"/>
<polygon points="845.4,1174.1 820,1178.7 820,1169.5" fill="#000"/>
<text x="-1.96" y="0" font-size="38.9" transform="translate(588,1166.7) rotate(0) scale(0.9768,1)">240</text>
</svg></body></html>
